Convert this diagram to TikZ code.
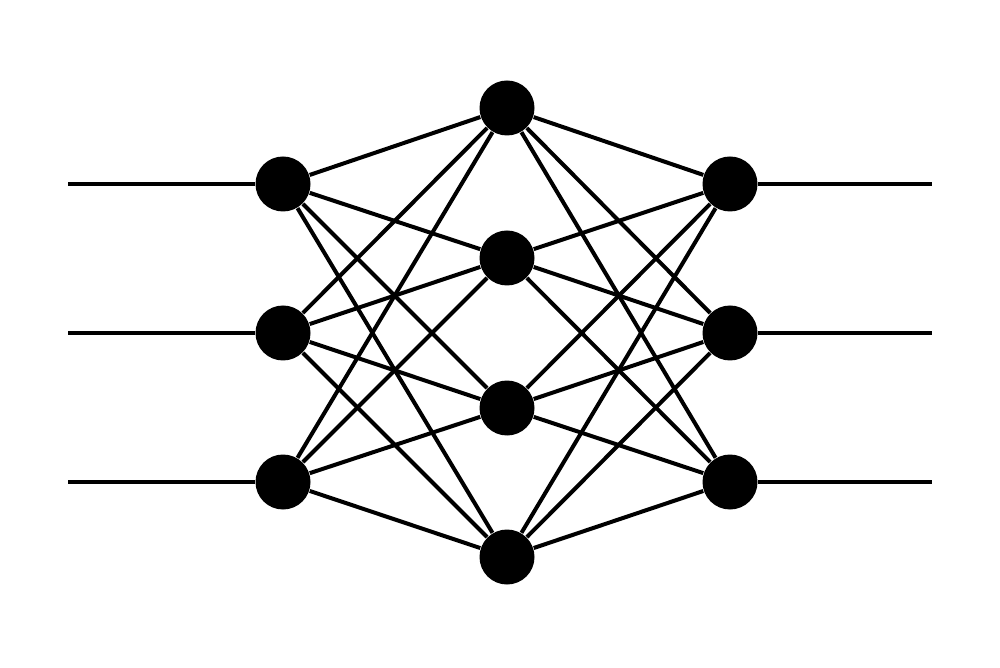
\documentclass[tikz,border=0pt]{standalone}
\usepackage{tikz}
\usetikzlibrary{calc,positioning}

\begin{document}
\begin{tikzpicture}[neuron/.style={fill=black,circle,minimum size=5.5mm,inner sep=0pt},link/.style={line width=0.4mm}]

  \useasboundingbox (0,0) rectangle (10,6.67);

  \node[neuron] (i1) at (2.83,4.83) {};
  \node[neuron] (i2) at (2.83,3.34) {};
  \node[neuron] (i3) at (2.83,1.85) {};

  \node[neuron] (h1) at (5.07,5.59) {};
  \node[neuron] (h2) at (5.07,4.09) {};
  \node[neuron] (h3) at (5.07,2.59) {};
  \node[neuron] (h4) at (5.07,1.10) {};

  \node[neuron] (o1) at (7.30,4.83) {};
  \node[neuron] (o2) at (7.30,3.34) {};
  \node[neuron] (o3) at (7.30,1.85) {};

  \coordinate (x1) at (0.68,4.83);
  \coordinate (x2) at (0.68,3.34);
  \coordinate (x3) at (0.68,1.85);
  \coordinate (y1) at (9.32,4.83);
  \coordinate (y2) at (9.32,3.34);
  \coordinate (y3) at (9.32,1.85);

  % inputs and outputs
  \draw[link] (x1) -- (i1);
  \draw[link] (x2) -- (i2);
  \draw[link] (x3) -- (i3);
  \draw[link] (o1) -- (y1);
  \draw[link] (o2) -- (y2);
  \draw[link] (o3) -- (y3);

  % input to hidden
  \draw[link] (i1) -- (h1);
  \draw[link] (i1) -- (h2);
  \draw[link] (i1) -- (h3);
  \draw[link] (i1) -- (h4);
  \draw[link] (i2) -- (h1);
  \draw[link] (i2) -- (h2);
  \draw[link] (i2) -- (h3);
  \draw[link] (i2) -- (h4);
  \draw[link] (i3) -- (h1);
  \draw[link] (i3) -- (h2);
  \draw[link] (i3) -- (h3);
  \draw[link] (i3) -- (h4);

  % hidden to output
  \draw[link] (h1) -- (o1);
  \draw[link] (h1) -- (o2);
  \draw[link] (h1) -- (o3);
  \draw[link] (h2) -- (o1);
  \draw[link] (h2) -- (o2);
  \draw[link] (h2) -- (o3);
  \draw[link] (h3) -- (o1);
  \draw[link] (h3) -- (o2);
  \draw[link] (h3) -- (o3);
  \draw[link] (h4) -- (o1);
  \draw[link] (h4) -- (o2);
  \draw[link] (h4) -- (o3);
\end{tikzpicture}
\end{document}
